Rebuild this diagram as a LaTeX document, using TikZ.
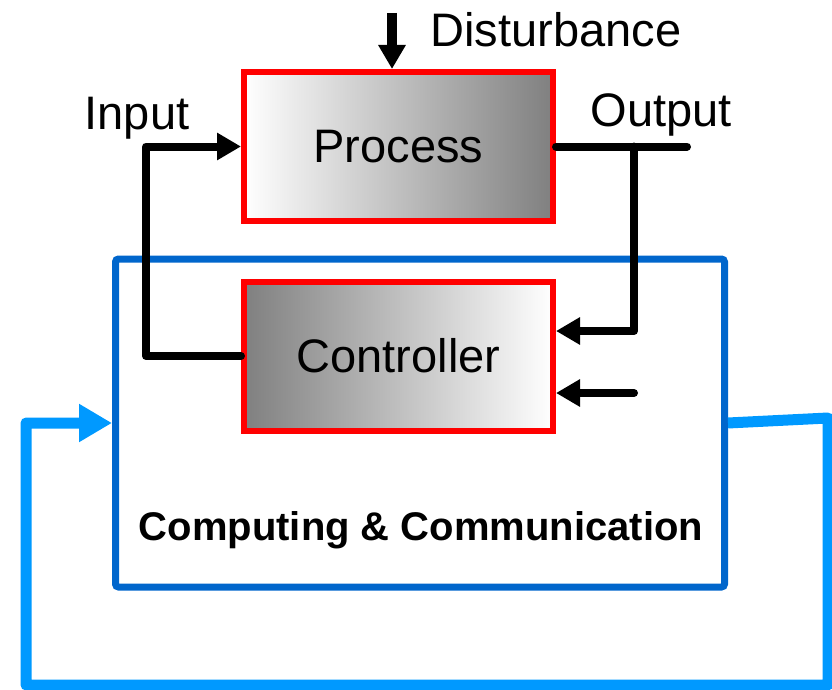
\documentclass[tikz,border=0pt]{standalone}
\usepackage{fontspec}
\setmainfont{Liberation Sans}
\usetikzlibrary{arrows.meta}

\definecolor{netblue}{RGB}{0,153,255}
\definecolor{boxblue}{RGB}{0,102,204}

\begin{document}
\begin{tikzpicture}[
  x=1pt, y=-1pt,
  block/.style={draw=red, line width=6pt, minimum width=309pt, minimum height=149pt,
    font=\fontsize{47}{50}\selectfont},
  lbl/.style={font=\fontsize{47}{50}\selectfont},
  sig/.style={line width=8pt, line cap=round, line join=round,
    -{Triangle[length=24pt, width=26pt]}},
  wire/.style={line width=8pt, line cap=round, line join=round},
  net/.style={draw=netblue, line width=11pt, line join=round,
    -{Triangle[length=33pt, width=36pt]}}
]
\useasboundingbox (0,0) rectangle (832,690);

% Process and controller
\node[block, left color=white, right color=gray] (process) at (398.5,146.5) {Process};
\node[block, left color=gray, right color=white] (controller) at (398.5,356) {Controller};

% Computing & communication layer
\node[draw=boxblue, line width=7pt, rounded corners=3pt, minimum width=609pt,
  minimum height=328pt] (cc) at (420,423) {};
\node[font=\fontsize{40}{42}\selectfont\bfseries] (ccl) at (421,530) {Computing \& Communication};

% Labels
\node[lbl] (dlbl) at (556,30) {Disturbance};
\node[lbl] (ilbl) at (137,118) {Input};
\node[lbl] (olbl) at (661,115) {Output};

% Signals
\coordinate (dist) at (392,13);
\draw[sig, line width=10pt, line cap=butt] (dist) -- (dist |- process.north);
\draw[sig] (controller.west) -- ++(-95,0) |- (process.west);
\draw[wire] (process.east) -- ++(131,0) coordinate (oend);
\coordinate (tap) at (634,146.5);
\draw[sig] (tap) |- ([yshift=25pt]controller.east);
\coordinate (ext) at (634,393);
\draw[sig] (ext) -- (ext -| controller.east);

% Network loop
\draw[net] (cc.east) -- (828,418) -- (828,685) -- (26,685) |- (cc.west);

\end{tikzpicture}
\end{document}
